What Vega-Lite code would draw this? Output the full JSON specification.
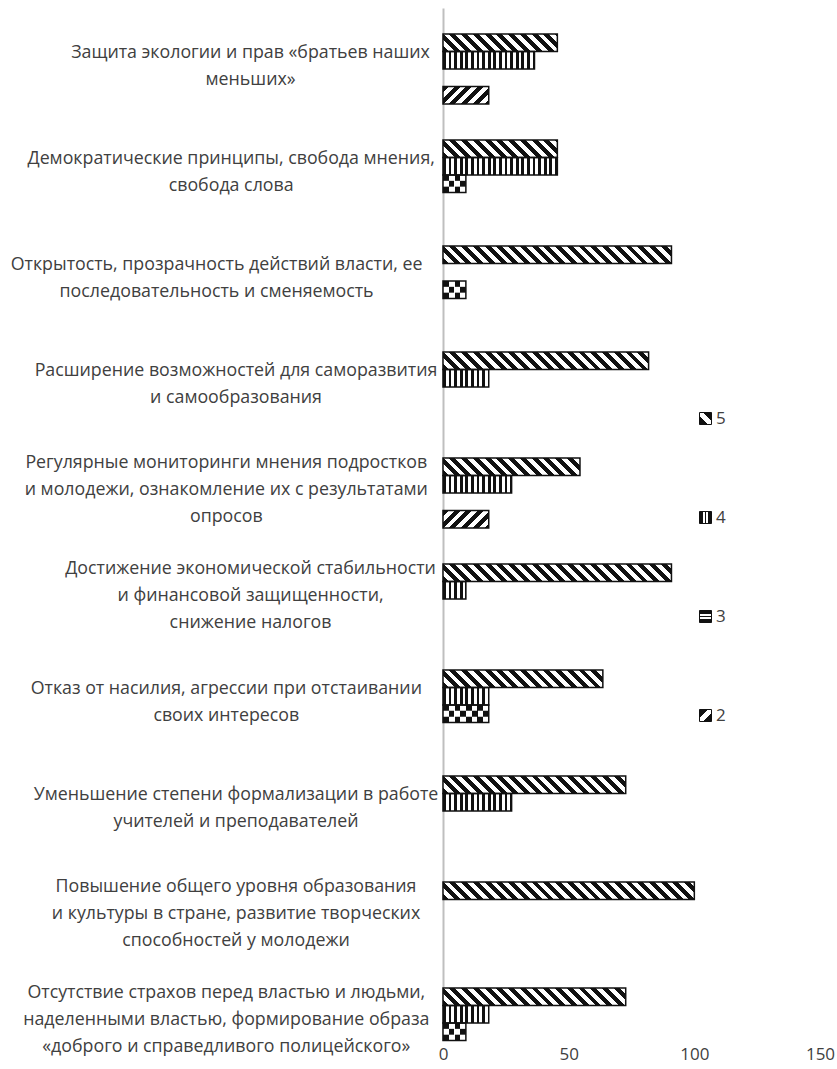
{
"$schema": "https://vega.github.io/schema/vega-lite/v6.json",
"autosize": {"type": "none"},
"padding": {"left": 443, "top": 8, "right": 17, "bottom": 28},
"width": 377,
"height": 1032.5,
"background": "white",
"config": {"view": {"stroke": null}, "font": "Open Sans"},
"params": [
{"name": "hatch", "value": [
{"offset":0.0217,"color":"#111"},{"offset":0.0217,"color":"#fff"},
{"offset":0.0435,"color":"#fff"},{"offset":0.0435,"color":"#111"},
{"offset":0.0652,"color":"#111"},{"offset":0.0652,"color":"#fff"},
{"offset":0.087,"color":"#fff"},{"offset":0.087,"color":"#111"},
{"offset":0.1087,"color":"#111"},{"offset":0.1087,"color":"#fff"},
{"offset":0.1304,"color":"#fff"},{"offset":0.1304,"color":"#111"},
{"offset":0.1522,"color":"#111"},{"offset":0.1522,"color":"#fff"},
{"offset":0.1739,"color":"#fff"},{"offset":0.1739,"color":"#111"},
{"offset":0.1957,"color":"#111"},{"offset":0.1957,"color":"#fff"},
{"offset":0.2174,"color":"#fff"},{"offset":0.2174,"color":"#111"},
{"offset":0.2391,"color":"#111"},{"offset":0.2391,"color":"#fff"},
{"offset":0.2609,"color":"#fff"},{"offset":0.2609,"color":"#111"},
{"offset":0.2826,"color":"#111"},{"offset":0.2826,"color":"#fff"},
{"offset":0.3043,"color":"#fff"},{"offset":0.3043,"color":"#111"},
{"offset":0.3261,"color":"#111"},{"offset":0.3261,"color":"#fff"},
{"offset":0.3478,"color":"#fff"},{"offset":0.3478,"color":"#111"},
{"offset":0.3696,"color":"#111"},{"offset":0.3696,"color":"#fff"},
{"offset":0.3913,"color":"#fff"},{"offset":0.3913,"color":"#111"},
{"offset":0.413,"color":"#111"},{"offset":0.413,"color":"#fff"},
{"offset":0.4348,"color":"#fff"},{"offset":0.4348,"color":"#111"},
{"offset":0.4565,"color":"#111"},{"offset":0.4565,"color":"#fff"},
{"offset":0.4783,"color":"#fff"},{"offset":0.4783,"color":"#111"},
{"offset":0.5,"color":"#111"},{"offset":0.5,"color":"#fff"},
{"offset":0.5217,"color":"#fff"},{"offset":0.5217,"color":"#111"},
{"offset":0.5435,"color":"#111"},{"offset":0.5435,"color":"#fff"},
{"offset":0.5652,"color":"#fff"},{"offset":0.5652,"color":"#111"},
{"offset":0.587,"color":"#111"},{"offset":0.587,"color":"#fff"},
{"offset":0.6087,"color":"#fff"},{"offset":0.6087,"color":"#111"},
{"offset":0.6304,"color":"#111"},{"offset":0.6304,"color":"#fff"},
{"offset":0.6522,"color":"#fff"},{"offset":0.6522,"color":"#111"},
{"offset":0.6739,"color":"#111"},{"offset":0.6739,"color":"#fff"},
{"offset":0.6957,"color":"#fff"},{"offset":0.6957,"color":"#111"},
{"offset":0.7174,"color":"#111"},{"offset":0.7174,"color":"#fff"},
{"offset":0.7391,"color":"#fff"},{"offset":0.7391,"color":"#111"},
{"offset":0.7609,"color":"#111"},{"offset":0.7609,"color":"#fff"},
{"offset":0.7826,"color":"#fff"},{"offset":0.7826,"color":"#111"},
{"offset":0.8043,"color":"#111"},{"offset":0.8043,"color":"#fff"},
{"offset":0.8261,"color":"#fff"},{"offset":0.8261,"color":"#111"},
{"offset":0.8478,"color":"#111"},{"offset":0.8478,"color":"#fff"},
{"offset":0.8696,"color":"#fff"},{"offset":0.8696,"color":"#111"},
{"offset":0.8913,"color":"#111"},{"offset":0.8913,"color":"#fff"},
{"offset":0.913,"color":"#fff"},{"offset":0.913,"color":"#111"},
{"offset":0.9348,"color":"#111"},{"offset":0.9348,"color":"#fff"},
{"offset":0.9565,"color":"#fff"},{"offset":0.9565,"color":"#111"},
{"offset":0.9783,"color":"#111"},{"offset":0.9783,"color":"#fff"}
]},
{"name": "lsD", "value": [
{"offset":0.36,"color":"#111"},{"offset":0.36,"color":"#fff"},
{"offset":0.64,"color":"#fff"},{"offset":0.64,"color":"#111"}
]},
{"name": "lsV", "value": [
{"offset":0.27,"color":"#111"},{"offset":0.27,"color":"#fff"},
{"offset":0.43,"color":"#fff"},{"offset":0.43,"color":"#111"},
{"offset":0.57,"color":"#111"},{"offset":0.57,"color":"#fff"},
{"offset":0.73,"color":"#fff"},{"offset":0.73,"color":"#111"}
]}
],
"data": {"values": [
{"c":"Защита экологии и прав «братьев наших|меньших»","s":"5","v":45.5},
{"c":"Защита экологии и прав «братьев наших|меньших»","s":"4","v":36.4},
{"c":"Защита экологии и прав «братьев наших|меньших»","s":"2","v":18.2},
{"c":"Демократические принципы, свобода мнения,|свобода слова","s":"5","v":45.5},
{"c":"Демократические принципы, свобода мнения,|свобода слова","s":"4","v":45.5},
{"c":"Демократические принципы, свобода мнения,|свобода слова","s":"3","v":9.1},
{"c":"Открытость, прозрачность действий власти, ее|последовательность и сменяемость","s":"5","v":90.9},
{"c":"Открытость, прозрачность действий власти, ее|последовательность и сменяемость","s":"3","v":9.1},
{"c":"Расширение возможностей для саморазвития|и  самообразования","s":"5","v":81.8},
{"c":"Расширение возможностей для саморазвития|и  самообразования","s":"4","v":18.2},
{"c":"Регулярные мониторинги мнения подростков|и молодежи, ознакомление их с результатами|опросов","s":"5","v":54.5},
{"c":"Регулярные мониторинги мнения подростков|и молодежи, ознакомление их с результатами|опросов","s":"4","v":27.3},
{"c":"Регулярные мониторинги мнения подростков|и молодежи, ознакомление их с результатами|опросов","s":"2","v":18.2},
{"c":"Достижение экономической стабильности|и финансовой защищенности,|снижение налогов","s":"5","v":90.9},
{"c":"Достижение экономической стабильности|и финансовой защищенности,|снижение налогов","s":"4","v":9.1},
{"c":"Отказ от насилия, агрессии при отстаивании|своих интересов","s":"5","v":63.6},
{"c":"Отказ от насилия, агрессии при отстаивании|своих интересов","s":"4","v":18.2},
{"c":"Отказ от насилия, агрессии при отстаивании|своих интересов","s":"3","v":18.2},
{"c":"Уменьшение степени формализации в работе|учителей и преподавателей","s":"5","v":72.7},
{"c":"Уменьшение степени формализации в работе|учителей и преподавателей","s":"4","v":27.3},
{"c":"Повышение общего уровня образования|и культуры в стране, развитие творческих|способностей у молодежи","s":"5","v":100},
{"c":"Отсутствие страхов перед властью и людьми,|наделенными властью, формирование образа|«доброго и справедливого полицейского»","s":"5","v":72.7},
{"c":"Отсутствие страхов перед властью и людьми,|наделенными властью, формирование образа|«доброго и справедливого полицейского»","s":"4","v":18.2},
{"c":"Отсутствие страхов перед властью и людьми,|наделенными властью, формирование образа|«доброго и справедливого полицейского»","s":"3","v":9.1}
]},
"encoding": {
"y": {"field": "c", "type": "nominal", "sort": null,
 "scale": {"paddingInner": 0.505, "paddingOuter": 0.1226, "align": 1},
 "axis": {"title": null, "domainColor": "#bfbfbf", "domainWidth": 2, "ticks": false, "grid": false, "labels": false}},
"x": {"field": "v", "type": "quantitative", "scale": {"domain": [0, 150], "nice": false},
 "axis": {"values": [0, 50, 100, 150], "title": null, "domain": false, "ticks": false, "grid": false,
  "labelFont": "Open Sans", "labelFontSize": 17, "labelColor": "#404040", "labelPadding": 6, "labelFlush": false}}
},
"layer": [
{"mark": {"type": "bar", "strokeWidth": 0,
 "fill": {"expr": "datum.s=='5'?{gradient:'linear',x1:0,y1:1,x2:678.6*datum.v/(6.3167*datum.v*datum.v+306.25),y2:1-4725/(6.3167*datum.v*datum.v+306.25),stops:hatch}:datum.s=='4'?{gradient:'linear',x1:0,y1:0,x2:51.25/datum.v,y2:0,stops:hatch}:datum.s=='3'?{gradient:'linear',x1:0,y1:0,x2:105.24/datum.v,y2:0,stops:hatch}:{gradient:'linear',x1:0,y1:0,x2:678.6*datum.v/(6.3167*datum.v*datum.v+306.25),y2:4725/(6.3167*datum.v*datum.v+306.25),stops:hatch}"}},
 "encoding": {"yOffset": {"field": "s", "type": "nominal", "scale": {"domain": ["5","4","3","2"], "range": [0, 70]}}}},
{"transform": [{"filter": "datum.s=='3'"}],
 "mark": {"type": "bar", "size": 5.83, "strokeWidth": 0,
 "fill": {"expr": "{gradient:'linear',x1:-2.288/datum.v,y1:0,x2:102.95/datum.v,y2:0,stops:hatch}"}},
 "encoding": {"yOffset": {"field": "s", "type": "nominal", "scale": {"domain": ["5","4","3","2"], "range": [0, 70]}}}},
{"mark": {"type": "bar", "strokeWidth": 1.5},
 "encoding": {
  "yOffset": {"field": "s", "type": "nominal", "scale": {"domain": ["5","4","3","2"], "range": [0, 70]}},
  "fill": {"field": "c", "type": "nominal", "scale": {"range": ["transparent"]}, "legend": null},
  "stroke": {"field": "s", "type": "nominal",
  "scale": {"domain": ["5","4","3","2"], "range": ["#111","#111","#111","#111"]},
  "legend": {"title": null, "orient": "none", "legendX": 254, "legendY": 402, "padding": 0,
   "symbolType": "square", "symbolSize": 144, "symbolStrokeWidth": 1, "symbolStrokeColor": "#111",
   "symbolFillColor": {"expr": "datum.value=='5'?{gradient:'linear',x1:0,y1:1,x2:1,y2:0,stops:lsD}:datum.value=='2'?{gradient:'linear',x1:0,y1:0,x2:1,y2:1,stops:lsD}:datum.value=='4'?{gradient:'linear',x1:0,y1:0,x2:1,y2:0,stops:lsV}:{gradient:'linear',x1:0,y1:0,x2:0,y2:1,stops:lsV}"},
   "labelFont": "Open Sans", "labelFontSize": 17, "labelColor": "#404040", "labelOffset": 2, "rowPadding": 81}}}},
{"transform": [{"filter": "datum.s=='5'"}],
 "mark": {"type": "text", "lineBreak": "|", "font": "Open Sans", "fontSize": 17.8, "lineHeight": 27,
  "align": "center", "baseline": "middle", "color": "#404040",
  "dx": {"expr": "-13-4.85*max(length(split(datum.c,'|')[0]),length(split(datum.c,'|')[1]||''),length(split(datum.c,'|')[2]||''))"},
  "dy": {"expr": "6-13.5*(length(split(datum.c,'|'))-1)"}},
 "encoding": {"x": {"datum": 0, "type": "quantitative"}, "text": {"field": "c", "type": "nominal"}}}
]
}
